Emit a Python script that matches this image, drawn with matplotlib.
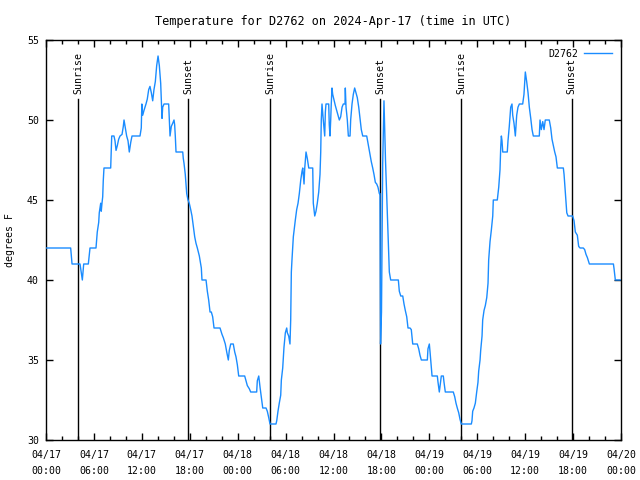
import matplotlib
matplotlib.use('Agg')
import matplotlib.pyplot as plt
from matplotlib.ticker import MultipleLocator, FixedLocator

# hours since 2024-04-17 00:00 UTC, temperature (F)
hours = [0.0, 3.09, 3.26, 4.01, 4.26, 4.55, 4.72, 5.30, 5.51, 6.26, 6.42, 6.60, 6.67, 6.85, 6.92, 7.01,
         7.10, 7.17, 7.26, 8.10, 8.14, 8.23, 8.51, 8.64, 8.77, 8.93, 9.10, 9.27, 9.52, 9.68, 9.77, 9.93,
         10.10, 10.27, 10.43, 10.61, 10.77, 11.77, 11.93, 12.0, 12.11, 12.27, 12.52, 12.68, 12.86, 13.02,
         13.19, 13.36, 13.52, 13.69, 13.86, 14.03, 14.19, 14.36, 14.53, 14.61, 14.78, 15.36, 15.44, 15.53,
         15.69, 15.87, 16.03, 16.11, 16.19, 16.28, 17.12, 17.19, 17.28, 17.44, 17.53, 17.62, 17.78, 17.94,
         18.12, 18.28, 18.44, 18.62, 18.78, 18.95, 19.20, 19.28, 19.45, 19.53, 20.04, 20.20, 20.37, 20.54,
         20.70, 20.87, 21.04, 21.79, 22.04, 22.20, 22.45, 22.63, 22.83, 22.95, 23.13, 23.45, 23.63, 23.79,
         23.96, 24.13, 24.88, 25.04, 25.21, 25.46, 25.63, 26.38, 26.46, 26.64, 26.80, 26.96, 27.14, 27.55,
         27.71, 27.89, 28.05, 28.80, 28.89, 29.05, 29.21, 29.39, 29.47, 29.64, 29.80, 29.97, 30.14, 30.22,
         30.39, 30.55, 30.64, 30.72, 30.80, 30.97, 31.22, 31.39, 31.56, 31.72, 31.90, 32.06, 32.15, 32.31,
         32.40, 32.56, 32.72, 32.90, 33.40, 33.47, 33.65, 33.81, 33.97, 34.15, 34.31, 34.40, 34.47, 34.56,
         34.72, 34.90, 34.98, 35.06, 35.40, 35.47, 35.56, 35.65, 35.72, 35.81, 35.90, 36.06, 36.23, 36.40,
         36.56, 36.73, 36.90, 37.07, 37.23, 37.44, 37.48, 37.57, 37.73, 37.86, 38.07, 38.15, 38.32, 38.48,
         38.65, 38.82, 38.98, 39.16, 39.32, 39.48, 39.66, 40.16, 40.23, 40.41, 40.57, 40.73, 40.91, 41.07,
         41.24, 41.41, 41.57, 41.74, 41.82, 41.89, 42.01, 42.16, 42.32, 42.41, 42.51, 42.66, 42.82, 42.99,
         43.16, 44.12, 44.24, 44.42, 44.67, 44.83, 44.99, 45.17, 45.33, 45.58, 45.74, 45.92, 46.49, 46.67,
         46.83, 47.00, 47.75, 47.83, 48.00, 48.09, 48.25, 48.34, 49.00, 49.09, 49.25, 49.43, 49.50, 49.75,
         49.84, 50.00, 51.00, 51.18, 51.34, 51.50, 51.68, 51.84, 52.00, 53.26, 53.34, 53.43, 53.59, 53.76,
         53.93, 54.09, 54.18, 54.35, 54.43, 54.60, 54.68, 54.85, 55.01, 55.19, 55.35, 55.43, 55.60, 55.76,
         55.94, 56.01, 56.51, 56.69, 56.85, 56.94, 57.02, 57.10, 57.19, 57.76, 57.85, 58.01, 58.19, 58.35,
         58.44, 58.60, 58.77, 58.94, 59.10, 59.27, 59.69, 59.85, 60.02, 60.19, 60.36, 60.52, 60.70, 60.86,
         61.02, 61.77, 61.86, 62.02, 62.20, 62.36, 62.52, 63.02, 63.20, 63.36, 63.53, 63.70, 63.86, 64.03,
         64.78, 64.87, 65.03, 65.21, 65.37, 65.95, 66.12, 66.28, 66.53, 66.70, 66.87, 67.28, 67.45, 67.62,
         67.79, 68.04, 71.05, 71.13, 71.29, 71.88]
temps = [42, 42, 41, 41, 41, 40, 41, 41, 42, 42, 43, 43.6, 44.2, 44.8, 44.3, 44.8,
         45.2, 46.2, 47, 47, 47.6, 49, 49, 48.7, 48.1, 48.4, 48.8, 49, 49.1, 49.6, 50, 49.5,
         49, 48.7, 48, 48.6, 49, 49, 49.5, 51, 50.3, 50.6, 51, 51.3, 51.9, 52.1,
         51.7, 51.2, 51.9, 52.4, 53.4, 54, 53.4, 52.3, 50.1, 50.8, 51, 51, 50.1, 49,
         49.6, 49.8, 50, 49.7, 49, 48, 48, 47.6, 47.3, 46.6, 46, 45.4, 45, 44.8,
         44.4, 44, 43.4, 42.7, 42.3, 42, 41.5, 41.25, 40.75, 40, 40, 39.3, 38.75, 38,
         38, 37.7, 37, 37, 36.6, 36.4, 36, 35.5, 35, 35.6, 36, 36, 35.5, 35.2,
         34.7, 34, 34, 33.7, 33.4, 33.2, 33, 33, 33.7, 34, 33.3, 32.7, 32, 32,
         31.8, 31.4, 31, 31, 31.2, 31.8, 32.3, 32.8, 33.75, 34.5, 35.8, 36.7, 37, 36.7,
         36.5, 36, 37.5, 40.5, 41.25, 42.7, 43.75, 44.4, 44.8, 45.4, 46.25, 46.8, 47, 46,
         47, 48, 47.6, 47, 47, 44.8, 44, 44.3, 44.8, 45.5, 46.6, 48, 50, 51,
         50, 49, 50.5, 51, 51, 49.7, 49, 50, 51, 52, 51.6, 51.25, 50.9, 50.6,
         50.3, 50, 50.2, 50.8, 51, 51, 52, 50.8, 50, 49, 49, 50, 51, 51.6,
         52, 51.7, 51.4, 50.8, 50.1, 49.4, 49, 49, 48.8, 48.3, 47.8, 47.4, 47, 46.6,
         46.1, 46, 45.8, 45.4, 45.4, 36, 38, 47.3, 51.2, 49.5, 47.5, 45.4, 43, 40.5,
         40, 40, 39.3, 39, 39, 38.5, 38.1, 37.7, 37, 37, 36.9, 36, 36, 35.7,
         35.3, 35, 35, 35.7, 36, 35.5, 34.5, 34, 34, 33.6, 33, 33.75, 34, 34,
         33.6, 33, 33, 32.7, 32.3, 32, 31.7, 31.3, 31, 31, 31.2, 31.8, 32, 32.3,
         33, 33.6, 34.3, 35, 35.6, 36.5, 37.5, 38.1, 38.4, 38.9, 39.8, 41.25, 42.4, 43.1,
         44, 45, 45, 45.8, 46.9, 48.3, 49, 48.7, 48, 48, 48.7, 49.6, 50.8, 51,
         50.3, 49.8, 49, 50.3, 50.8, 51, 51, 51.6, 53, 52.4, 51.7, 50.8, 50.1, 49.4,
         49, 49, 50, 49.4, 49.9, 49.4, 50, 50, 49.5, 48.8, 48.4, 48, 47.7, 47,
         47, 46.6, 45.5, 44.2, 44, 44, 43.7, 43, 42.8, 42.1, 42, 42, 41.9, 41.6,
         41.4, 41, 41, 40.7, 40, 40]

sun_times = [4.05, 17.82, 28.09, 41.86, 52.01, 65.83]
sun_labels = ['Sunrise', 'Sunset', 'Sunrise', 'Sunset', 'Sunrise', 'Sunset']

xtick_pos = list(range(0, 73, 6))
xtick_labels = ['04/17\n00:00', '04/17\n06:00', '04/17\n12:00', '04/17\n18:00',
                '04/18\n00:00', '04/18\n06:00', '04/18\n12:00', '04/18\n18:00',
                '04/19\n00:00', '04/19\n06:00', '04/19\n12:00', '04/19\n18:00',
                '04/20\n00:00']

plt.rcParams['font.family'] = 'DejaVu Sans Mono'
plt.rcParams['font.size'] = 7.1

fig = plt.figure(figsize=(6.4, 4.8), dpi=100)
ax = fig.add_axes([46/640, 40/480, 575/640, 400/480])

ax.plot(hours, temps, color='#1a8cff', lw=1.0, label='D2762', zorder=3)

for t, lab in zip(sun_times, sun_labels):
    ax.plot([t, t], [30, 51.3], color='black', lw=1.0, zorder=2)
    ax.text(t, 51.6, lab, rotation=90, ha='center', va='bottom')

ax.set_xlim(0, 72)
ax.set_ylim(30, 55)
ax.xaxis.set_major_locator(FixedLocator(xtick_pos))
ax.set_xticklabels(xtick_labels, linespacing=1.8)
ax.xaxis.set_minor_locator(MultipleLocator(2))
ax.yaxis.set_major_locator(MultipleLocator(5))
ax.tick_params(which='both', direction='in', top=True, right=True, width=1, colors='black')
ax.tick_params(which='major', length=5, pad=7)
ax.tick_params(which='minor', length=3)
ax.tick_params(axis='y', pad=5)
for s in ax.spines.values():
    s.set_linewidth(1)

ax.set_ylabel('degrees F', labelpad=9)
ax.set_title('Temperature for D2762 on 2024-Apr-17 (time in UTC)', pad=11)

leg = ax.legend(loc='upper right', frameon=False, handlelength=2.9, handletextpad=0.5,
                markerfirst=False, borderaxespad=0.5)

fig.savefig('out.png', dpi=100)
